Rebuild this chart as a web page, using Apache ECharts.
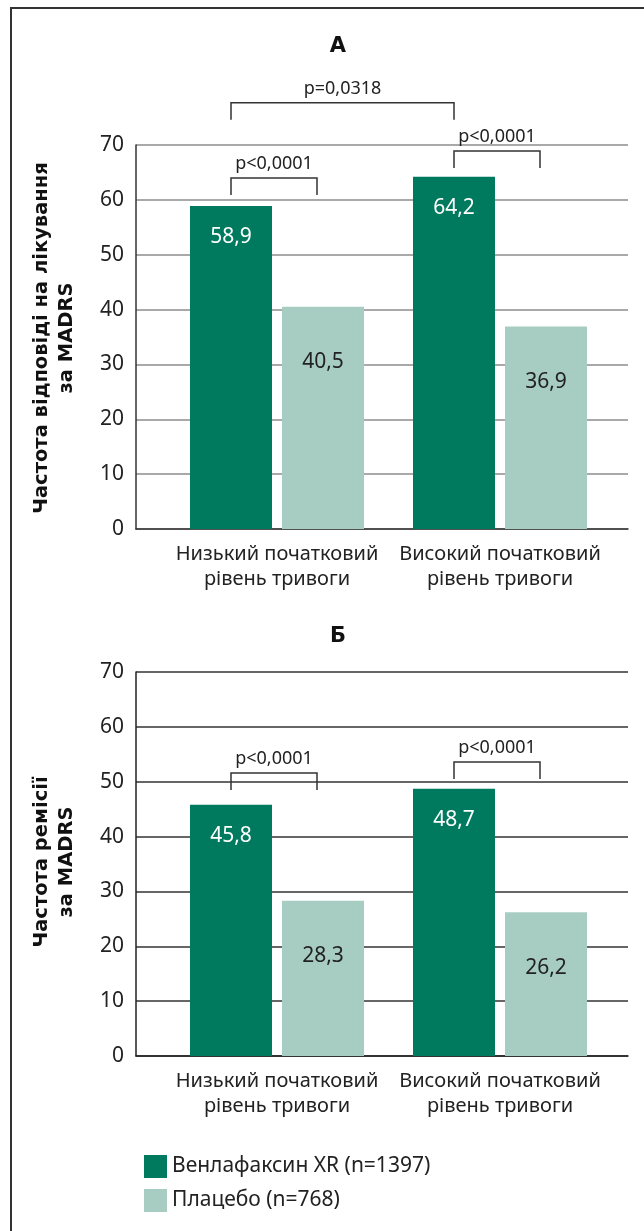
<!DOCTYPE html>
<html>
<head>
<meta charset="utf-8">
<script src="https://cdn.jsdelivr.net/npm/echarts@6/dist/echarts.min.js"></script>
<style>
html,body{margin:0;padding:0;background:#fff;}
#c{width:644px;height:1231px;}
</style>
</head>
<body>
<div id="c"></div>
<script>
// ---- data ----
const categories = ['Низький початковий\nрівень тривоги', 'Високий початковий\nрівень тривоги'];
const seriesNames = ['Венлафаксин XR (n=1397)', 'Плацебо (n=768)'];
const responseVenla = [58.9, 64.2];
const responsePlacebo = [40.5, 36.9];
const remissionVenla = [45.8, 48.7];
const remissionPlacebo = [28.3, 26.2];
const yTicks = [0, 10, 20, 30, 40, 50, 60, 70];
const panelTitles = ['А', 'Б'];
const yTitles = ['Частота відповіді на лікування\nза MADRS', 'Частота ремісії\nза MADRS'];
// brackets: [fromCategory, fromSide, toCategory, toSide, level, text]  (side 0 = venlafaxine bar, 1 = placebo bar)
const bracketsA = [
  [0, 0, 0, 1, 64.0, 'p<0,0001'],
  [1, 0, 1, 1, 68.9, 'p<0,0001'],
  [0, 0, 1, 0, 77.7, 'p=0,0318']
];
const bracketsB = [
  [0, 0, 0, 1, 51.6, 'p<0,0001'],
  [1, 0, 1, 1, 53.6, 'p<0,0001']
];

// ---- styling ----
const FONT = 'Noto Sans';
const BOLDFONT = 'DejaVu Sans';
const GREEN = '#007a5e';
const LIGHT = '#a7cdc2';
const TEXT = '#222';
const yMax = yTicks[yTicks.length - 1];
const panels = [
  { top: 145, grid: '#8c8c8c', axis: '#333', v: responseVenla, p: responsePlacebo, br: bracketsA },
  { top: 672, grid: '#333', axis: '#222', v: remissionVenla, p: remissionPlacebo, br: bracketsB }
];
const H = 384;

const grid = [], xAxis = [], yAxis = [], series = [], graphic = [];
panels.forEach((pn, i) => {
  grid.push({ left: 136, right: 16, top: pn.top, height: H });
  grid.push({ left: 165.5, right: 32.5, top: pn.top, height: H });
  const ga = i * 2, gb = i * 2 + 1;
  xAxis.push({ gridIndex: ga, type: 'value', min: 0, max: 1, axisLine: { show: true, lineStyle: { color: pn.axis, width: 1.5 } },
    axisTick: { show: false }, axisLabel: { show: false }, splitLine: { show: false } });
  xAxis.push({ gridIndex: gb, type: 'category', data: categories, axisLine: { show: false }, axisTick: { show: false },
    axisLabel: { interval: 0, margin: 13, fontFamily: FONT, fontSize: 20, lineHeight: 25, color: TEXT } });
  yAxis.push({ gridIndex: ga, type: 'value', min: 0, max: yMax, interval: 10,
    axisLine: { show: true, lineStyle: { color: pn.axis, width: 1.5 } }, axisTick: { show: false },
    axisLabel: { margin: 12, fontFamily: FONT, fontSize: 21, color: TEXT },
    splitLine: { show: true, lineStyle: { color: pn.grid, width: 1.5 } } });
  yAxis.push({ gridIndex: gb, type: 'value', min: 0, max: yMax, show: false, splitLine: { show: false } });

  series.push({
    type: 'bar', name: seriesNames[0], xAxisIndex: gb, yAxisIndex: gb, data: pn.v,
    barWidth: 82, barGap: '12.2%', itemStyle: { color: GREEN }, z: 3,
    label: { show: true, position: 'insideTop', distance: 21, color: '#fff', fontFamily: FONT, fontSize: 21,
      formatter: p => String(p.value).replace('.', ',') }
  });
  series.push({
    type: 'bar', name: seriesNames[1], xAxisIndex: gb, yAxisIndex: gb, data: pn.p,
    barWidth: 82, barGap: '12.2%', itemStyle: { color: LIGHT }, z: 3,
    label: { show: true, position: 'insideTop', distance: 45, color: TEXT, fontFamily: FONT, fontSize: 21,
      formatter: p => String(p.value).replace('.', ',') }
  });
  series.push({
    type: 'custom', xAxisIndex: gb, yAxisIndex: gb, data: pn.br, z: 5, silent: true,
    renderItem: (params, api) => {
      const off = s => (s === 0 ? -46 : 40);
      const a = api.coord([api.value(0), api.value(4)]);
      const b = api.coord([api.value(2), api.value(4)]);
      const x1 = a[0] + off(api.value(1));
      const x2 = b[0] + off(api.value(3));
      const y = a[1];
      const leg = 17;
      const txt = pn.br[params.dataIndex][5];
      return {
        type: 'group',
        children: [
          { type: 'polyline', shape: { points: [[x1, y + leg], [x1, y], [x2, y], [x2, y + leg]] },
            style: { stroke: '#333', lineWidth: 1.5, fill: null } },
          { type: 'text', x: (x1 + x2) / 2, y: y - 5,
            style: { text: txt, fontFamily: FONT, fontSize: 18, fill: TEXT, align: 'center', verticalAlign: 'bottom' } }
        ]
      };
    }
  });

  graphic.push({ type: 'text', x: 338, y: i === 0 ? 47 : 637,
    style: { text: panelTitles[i], fontFamily: BOLDFONT, fontWeight: 'bold', fontSize: 21, fill: '#111', align: 'center', verticalAlign: 'middle' } });
  graphic.push({ type: 'text', x: 54, y: pn.top + (i === 0 ? 193 : 190), rotation: Math.PI / 2,
    style: { text: yTitles[i], fontFamily: BOLDFONT, fontWeight: 'bold', fontSize: 19.5, lineHeight: 25, fill: '#111', align: 'center', verticalAlign: 'middle' } });
});

graphic.push({ type: 'polyline', shape: { points: [[11, 1231], [11, 8], [644, 8]] }, style: { stroke: '#333', lineWidth: 2, fill: null } });

const chart = echarts.init(document.getElementById('c'), null, { renderer: 'canvas' });
chart.setOption({
  backgroundColor: '#fff',
  animation: false,
  textStyle: { fontFamily: FONT },
  grid, xAxis, yAxis, series, graphic,
  legend: {
    data: seriesNames, orient: 'vertical', left: 139, top: 1150, itemWidth: 23, itemHeight: 23, itemGap: 11,
    icon: 'rect', textStyle: { fontFamily: FONT, fontSize: 21, color: TEXT }, selectedMode: false
  }
});
</script>
</body>
</html>
